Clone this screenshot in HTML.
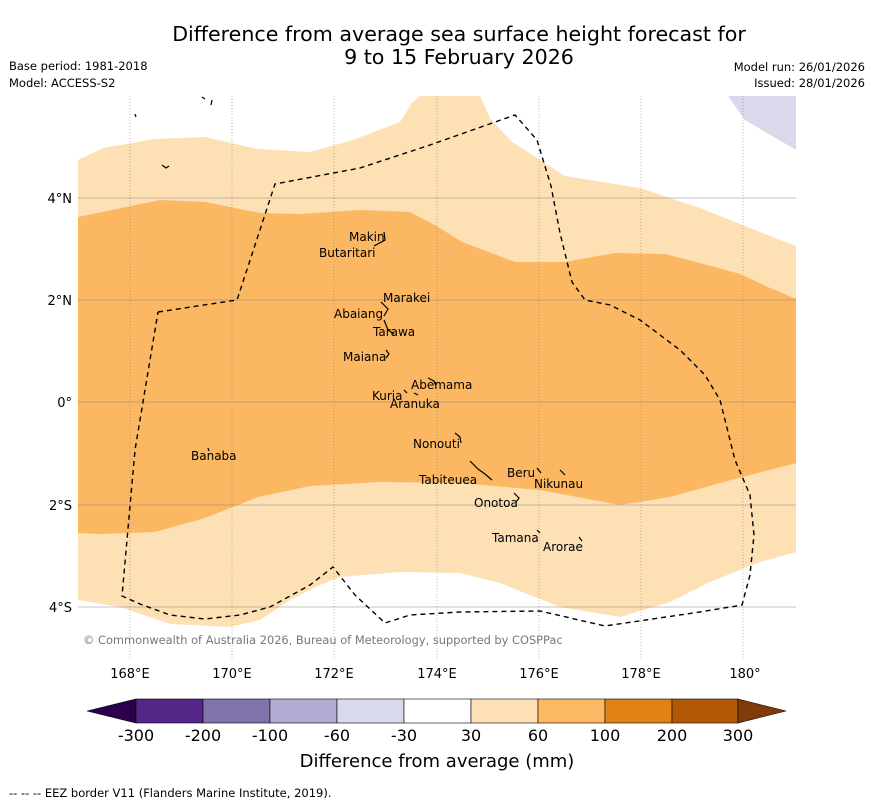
<!DOCTYPE html>
<html><head><meta charset="utf-8"><style>
body{margin:0;background:#fff;}
svg{display:block;font-family:"DejaVu Sans","Liberation Sans",sans-serif;}
</style></head><body>
<svg width="873" height="804" viewBox="0 0 873 804">
<text x="459" y="41" text-anchor="middle" font-size="20.6">Difference from average sea surface height forecast for</text>
<text x="459" y="64" text-anchor="middle" font-size="20.6">9 to 15 February 2026</text>
<text x="9" y="70" font-size="11.5">Base period: 1981-2018</text>
<text x="9" y="87" font-size="11.5">Model: ACCESS-S2</text>
<text x="865" y="71" font-size="11.5" text-anchor="end">Model run: 26/01/2026</text>
<text x="865" y="87" font-size="11.5" text-anchor="end">Issued: 28/01/2026</text>
<defs><clipPath id="mc"><rect x="78" y="96" width="718" height="562"/></clipPath></defs>
<g clip-path="url(#mc)">
<polygon fill="#fde0b4" points="78,160 103,148 155,139 205,137 258,149 310,152 350,141 400,122 412,103 420,96 480,96 490,118 512,142 565,176 640,188 700,208 770,236 796,246 796,552 760,562 710,582 670,602 620,617 560,607 500,583 460,573 400,572 340,577 320,585 290,600 260,620 230,627 170,624 120,607 78,600"/>
<polygon fill="#fbb761" points="78,217 160,200 205,202 260,213 300,214 360,210 410,212 435,225 462,242 515,262 565,262 615,253 665,254 700,263 740,274 770,288 796,299 796,463 720,483 670,497 620,505 540,490 460,483 380,482 310,486 258,497 205,518 155,532 100,534 78,533"/>
<polygon fill="#d9d9eb" points="728,96 796,96 796,150 745,120"/>
<g stroke="#888" stroke-width="0.6">
<line x1="78" x2="796" y1="198" y2="198"/><line x1="78" x2="796" y1="300" y2="300"/><line x1="78" x2="796" y1="402" y2="402"/><line x1="78" x2="796" y1="505" y2="505"/><line x1="78" x2="796" y1="607" y2="607"/>
<g stroke-dasharray="1,2"><line x1="130" x2="130" y1="96" y2="658"/><line x1="232" x2="232" y1="96" y2="658"/><line x1="334" x2="334" y1="96" y2="658"/><line x1="437" x2="437" y1="96" y2="658"/><line x1="539" x2="539" y1="96" y2="658"/><line x1="641" x2="641" y1="96" y2="658"/><line x1="743" x2="743" y1="96" y2="658"/></g>
</g>
<polyline fill="none" stroke="#000" stroke-width="1.4" stroke-dasharray="5,4" points="158,312 237,300 275,184 360,168 430,145 515,115 537,140 551,186 560,233 572,282 585,300 610,305 640,320 680,350 705,375 720,400 735,460 750,495 754,535 750,575 742,605 700,612 605,626 540,611 460,612 410,615 385,623 355,595 333,567 310,585 270,607 240,615 205,619 170,615 140,604 122,596 135,450 158,312"/>
<g fill="none" stroke="#000" stroke-width="1.2">
<path d="M384,232 L385,240 L374,246"/><path d="M381,302 L388,309 L384,316"/><path d="M384,320 L388,330 L394,334"/><path d="M386,350 L389,354 L386,358"/><path d="M428,378 L434,381 L436,386"/><path d="M404,390 L407,393"/><path d="M414,393 L418,395"/><path d="M455,433 L460,437 L461,443"/><path d="M470,461 L478,469 L485,474 L492,480"/><path d="M537,468 L541,473"/><path d="M560,470 L565,475"/><path d="M514,493 L519,498 L516,502"/><path d="M537,530 L540,533"/><path d="M579,537 L582,541"/><path d="M135,114 L136,117"/><path d="M162,165 L166,168 L169,166"/><path d="M202,97 L205,99"/><path d="M212,100 L211,105"/><path d="M208,448 L209,451"/>
</g>
<g font-size="12">
<text x="349" y="241">Makin</text><text x="319" y="257">Butaritari</text><text x="383" y="302">Marakei</text><text x="334" y="318">Abaiang</text><text x="373" y="336">Tarawa</text><text x="343" y="361">Maiana</text><text x="411" y="389">Abemama</text><text x="372" y="400">Kuria</text><text x="390" y="408">Aranuka</text><text x="413" y="448">Nonouti</text><text x="191" y="460">Banaba</text><text x="507" y="477">Beru</text><text x="534" y="488">Nikunau</text><text x="419" y="484">Tabiteuea</text><text x="474" y="507">Onotoa</text><text x="492" y="542">Tamana</text><text x="543" y="551">Arorae</text>
</g>
<text x="83" y="644" font-size="11.4" fill="#777">© Commonwealth of Australia 2026, Bureau of Meteorology, supported by COSPPac</text>
</g>
<g font-size="13">
<text x="72" y="203" text-anchor="end">4°N</text><text x="72" y="305" text-anchor="end">2°N</text><text x="72" y="407" text-anchor="end">0°</text><text x="72" y="510" text-anchor="end">2°S</text><text x="72" y="612" text-anchor="end">4°S</text>
</g>
<g font-size="13" text-anchor="middle">
<text x="130" y="678">168°E</text><text x="232" y="678">170°E</text><text x="334" y="678">172°E</text><text x="437" y="678">174°E</text><text x="539" y="678">176°E</text><text x="641" y="678">178°E</text><text x="745" y="678">180°</text>
</g>
<g stroke="#000" stroke-width="0.6">
<polygon points="87,711 136,699 136,723" fill="#2d004b"/>
<rect x="136" y="699" width="67" height="24" fill="#542788"/>
<rect x="203" y="699" width="67" height="24" fill="#8073ac"/>
<rect x="270" y="699" width="67" height="24" fill="#b2abd2"/>
<rect x="337" y="699" width="67" height="24" fill="#d8daeb"/>
<rect x="404" y="699" width="67" height="24" fill="#ffffff"/>
<rect x="471" y="699" width="67" height="24" fill="#fee0b6"/>
<rect x="538" y="699" width="67" height="24" fill="#fdb863"/>
<rect x="605" y="699" width="67" height="24" fill="#e08214"/>
<rect x="672" y="699" width="66" height="24" fill="#b35806"/>
<polygon points="738,699 786,711 738,723" fill="#7f3b08"/>
</g>
<g font-size="16" text-anchor="middle">
<text x="136" y="741">-300</text><text x="203" y="741">-200</text><text x="270" y="741">-100</text><text x="337" y="741">-60</text><text x="404" y="741">-30</text><text x="471" y="741">30</text><text x="538" y="741">60</text><text x="605" y="741">100</text><text x="672" y="741">200</text><text x="738" y="741">300</text>
</g>
<text x="437" y="767" font-size="18" text-anchor="middle">Difference from average (mm)</text>
<text x="9" y="797" font-size="11.5">--  --  -- EEZ border V11 (Flanders Marine Institute, 2019).</text>
</svg>
</body></html>
